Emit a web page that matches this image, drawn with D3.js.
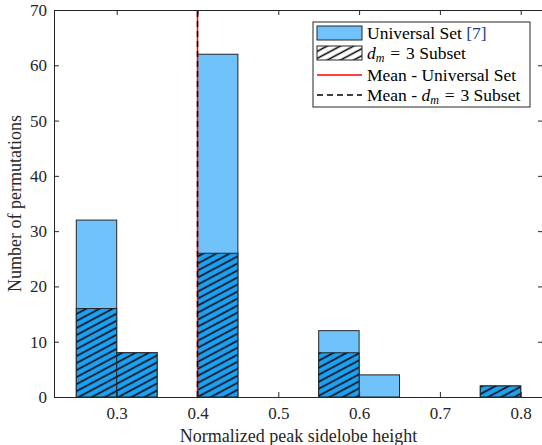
<!DOCTYPE html>
<html>
<head>
<meta charset="utf-8">
<script src="https://cdn.jsdelivr.net/npm/d3@7"></script>
<style>
  body { margin: 0; background: #fff; }
  svg { display: block; }
</style>
</head>
<body>
<svg id="chart" width="542" height="445"></svg>
<script>
// histogram bins (edges) and counts
const binEdges = [0.25, 0.3, 0.35, 0.4, 0.45, 0.5, 0.55, 0.6, 0.65, 0.7, 0.75, 0.8];
const universalCounts = [32, 8, 0, 62, 0, 0, 12, 4, 0, 0, 2];
const subsetCounts = [16, 8, 0, 26, 0, 0, 8, 0, 0, 0, 2];
const meanUniversal = 0.4;
const meanSubset = 0.4;
const xTicks = [0.3, 0.4, 0.5, 0.6, 0.7, 0.8];
const yTicks = [0, 10, 20, 30, 40, 50, 60, 70];

const svg = d3.select('#chart');
const margin = { top: 10, right: -1, bottom: 48, left: 54 };
const W = 542, H = 445;
const axisColor = '#262626';
const lightBlue = '#70c2fb';
const darkBlue = '#1ea0f0';
const serif = '"Liberation Serif", "Times New Roman", serif';

const x = d3.scaleLinear()
  .domain([0.2224, 0.8276])
  .range([margin.left, W - margin.right]);
const y = d3.scaleLinear()
  .domain([0, 70])
  .range([H - margin.bottom, margin.top]);

// hatch pattern
const defs = svg.append('defs');
const pat = defs.append('pattern')
  .attr('id', 'hatch')
  .attr('patternUnits', 'userSpaceOnUse')
  .attr('width', 12)
  .attr('height', 6.2)
  .attr('patternTransform', 'rotate(-28)');
pat.append('line')
  .attr('x1', 0).attr('x2', 12)
  .attr('y1', 3.1).attr('y2', 3.1)
  .attr('stroke', '#000')
  .attr('stroke-width', 1.5);

const bins = universalCounts.map((c, i) => ({
  x0: binEdges[i], x1: binEdges[i + 1], u: c, s: subsetCounts[i]
}));

const plot = svg.append('g');

// universal set bars
plot.selectAll('.ubar')
  .data(bins.filter(d => d.u > 0))
  .enter()
  .append('rect')
  .attr('class', 'ubar')
  .attr('x', d => x(d.x0))
  .attr('y', d => y(d.u))
  .attr('width', d => x(d.x1) - x(d.x0))
  .attr('height', d => y(0) - y(d.u))
  .attr('fill', lightBlue)
  .attr('stroke', axisColor)
  .attr('stroke-width', 1);

// subset bars (filled + hatched)
const sb = plot.selectAll('.sbar')
  .data(bins.filter(d => d.s > 0))
  .enter()
  .append('g')
  .attr('class', 'sbar');
sb.append('rect')
  .attr('x', d => x(d.x0))
  .attr('y', d => y(d.s))
  .attr('width', d => x(d.x1) - x(d.x0))
  .attr('height', d => y(0) - y(d.s))
  .attr('fill', darkBlue);
sb.append('rect')
  .attr('x', d => x(d.x0))
  .attr('y', d => y(d.s))
  .attr('width', d => x(d.x1) - x(d.x0))
  .attr('height', d => y(0) - y(d.s))
  .attr('fill', 'url(#hatch)')
  .attr('stroke', axisColor)
  .attr('stroke-width', 1);

// mean lines
plot.append('line')
  .attr('x1', x(meanUniversal)).attr('x2', x(meanUniversal))
  .attr('y1', y(0)).attr('y2', y(70))
  .attr('stroke', '#ff0000')
  .attr('stroke-width', 1.5);
plot.append('line')
  .attr('x1', x(meanSubset)).attr('x2', x(meanSubset))
  .attr('y1', y(0)).attr('y2', y(70))
  .attr('stroke', '#000')
  .attr('stroke-width', 1.5)
  .attr('stroke-dasharray', '6,4');

// axes (ticks inward, box)
const tickLen = 5;
const xAxisB = svg.append('g')
  .attr('transform', `translate(0,${y(0)})`)
  .call(d3.axisBottom(x).tickValues(xTicks).tickSizeInner(-tickLen).tickSizeOuter(0).tickPadding(10).tickFormat(d3.format('.1f')));
const xAxisT = svg.append('g')
  .attr('transform', `translate(0,${y(70)})`)
  .call(d3.axisTop(x).tickValues(xTicks).tickSizeInner(-tickLen).tickSizeOuter(0).tickFormat(''));
const yAxisL = svg.append('g')
  .attr('transform', `translate(${x.range()[0]},0)`)
  .call(d3.axisLeft(y).tickValues(yTicks).tickSizeInner(-tickLen).tickSizeOuter(0).tickPadding(7));
const yAxisR = svg.append('g')
  .attr('transform', `translate(${x.range()[1]},0)`)
  .call(d3.axisRight(y).tickValues(yTicks).tickSizeInner(-tickLen).tickSizeOuter(0).tickFormat(''));

[xAxisB, xAxisT, yAxisL, yAxisR].forEach(a => {
  a.attr('font-family', serif);
  a.selectAll('path, line').attr('stroke', axisColor).attr('stroke-width', 1);
  a.selectAll('text')
    .attr('fill', axisColor)
    .style('font-family', serif)
    .style('font-size', '17px');
});

// axis labels
svg.append('text')
  .attr('x', (x.range()[0] + x.range()[1]) / 2)
  .attr('y', 442)
  .attr('text-anchor', 'middle')
  .attr('fill', axisColor)
  .style('font-family', serif)
  .style('font-size', '18px')
  .text('Normalized peak sidelobe height');

svg.append('text')
  .attr('transform', `translate(21,${(y(0) + y(70)) / 2}) rotate(-90)`)
  .attr('text-anchor', 'middle')
  .attr('fill', axisColor)
  .style('font-family', serif)
  .style('font-size', '18px')
  .text('Number of permutations');

// legend
const lg = svg.append('g').attr('transform', 'translate(313,22)');
lg.append('rect')
  .attr('width', 217).attr('height', 85)
  .attr('fill', '#fff')
  .attr('stroke', axisColor)
  .attr('stroke-width', 1);

const rowY = [11, 31, 53, 73];
const px0 = 4, px1 = 49, tx = 54;
lg.append('rect')
  .attr('x', px0).attr('y', rowY[0] - 7).attr('width', px1 - px0).attr('height', 14)
  .attr('fill', lightBlue).attr('stroke', axisColor);
lg.append('rect')
  .attr('x', px0).attr('y', rowY[1] - 7).attr('width', px1 - px0).attr('height', 14)
  .attr('fill', '#fff');
lg.append('rect')
  .attr('x', px0).attr('y', rowY[1] - 7).attr('width', px1 - px0).attr('height', 14)
  .attr('fill', 'url(#hatch)').attr('stroke', axisColor);
lg.append('line')
  .attr('x1', px0).attr('x2', px1).attr('y1', rowY[2]).attr('y2', rowY[2])
  .attr('stroke', '#ff0000').attr('stroke-width', 1.5);
lg.append('line')
  .attr('x1', px0).attr('x2', px1).attr('y1', rowY[3]).attr('y2', rowY[3])
  .attr('stroke', '#000').attr('stroke-width', 1.5).attr('stroke-dasharray', '6,4');

function legendText(row) {
  return lg.append('text')
    .attr('x', tx)
    .attr('y', rowY[row] + 5.5)
    .attr('fill', '#000')
    .style('font-family', serif)
    .style('font-size', '17.5px');
}
function dmSubset(t) {
  t.append('tspan').style('font-style', 'italic').text('d');
  t.append('tspan').style('font-style', 'italic').style('font-size', '12px').attr('dy', 3).text('m');
  t.append('tspan').attr('dy', -3).attr('dx', 1.5).text(' =');
  t.append('tspan').attr('dx', 1.5).text(' 3 Subset');
}

const t0 = legendText(0);
t0.append('tspan').text('Universal Set ');
t0.append('tspan').attr('fill', '#1a3d8f').text('[7]');

dmSubset(legendText(1));
legendText(2).text('Mean - Universal Set');
const t3 = legendText(3);
t3.append('tspan').text('Mean - ');
dmSubset(t3);
</script>
</body>
</html>
